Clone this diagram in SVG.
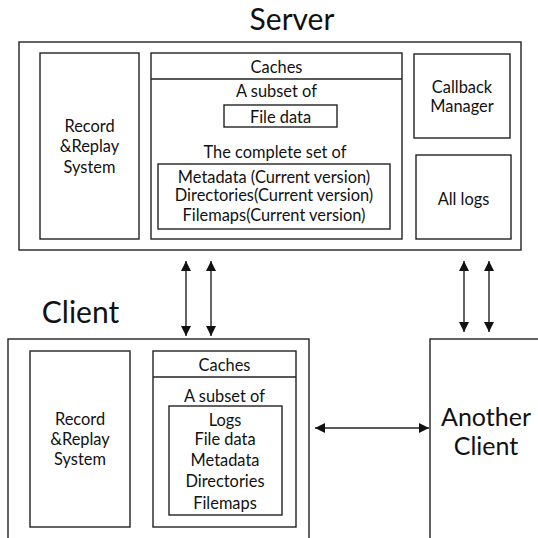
<svg xmlns="http://www.w3.org/2000/svg" width="538" height="538" viewBox="0 0 538 538">
<style>
  .box { fill: none; stroke: #222; stroke-width: 1.4; }
  .t { font-family: Lato, "Open Sans", sans-serif; font-size: 16.4px; fill: #111; text-anchor: middle; }
  .big { font-family: Lato, "Open Sans", sans-serif; font-size: 30px; fill: #111; text-anchor: middle; }
  .mid { font-family: Lato, "Open Sans", sans-serif; font-size: 25px; fill: #111; text-anchor: middle; }
  .conn { stroke: #222; stroke-width: 1.4; fill: none; marker-start: url(#ah); marker-end: url(#ah); }
</style>
<defs>
  <marker id="ah" viewBox="0 0 10 10" refX="10" refY="5" markerWidth="10" markerHeight="10" markerUnits="userSpaceOnUse" orient="auto-start-reverse">
    <path d="M0,0 L10,5 L0,10 Z" fill="#111"/>
  </marker>
</defs>
<rect width="538" height="538" fill="#fff"/>

<g id="server">
  <text class="big" x="292" y="29.5">Server</text>
  <rect class="box" x="19" y="42" width="502" height="208"/>
  <g id="server-record">
    <rect class="box" x="40" y="53" width="99" height="186"/>
    <text class="t" x="89.5" y="132">Record</text>
    <text class="t" x="89.5" y="152">&amp;Replay</text>
    <text class="t" x="89.5" y="173">System</text>
  </g>
  <g id="server-caches">
    <rect class="box" x="151" y="53" width="251" height="186"/>
    <line class="box" x1="151" y1="79" x2="402" y2="79"/>
    <text class="t" x="276.5" y="73">Caches</text>
    <text class="t" x="276.5" y="97">A subset of</text>
    <rect class="box" x="224" y="105" width="113" height="22"/>
    <text class="t" x="280.5" y="123">File data</text>
    <text class="t" x="275" y="158">The complete set of</text>
    <rect class="box" x="158" y="164" width="232" height="65"/>
    <text class="t" x="274" y="183">Metadata (Current version)</text>
    <text class="t" x="274" y="201">Directories(Current version)</text>
    <text class="t" x="274" y="221">Filemaps(Current version)</text>
  </g>
  <g id="callback">
    <rect class="box" x="414" y="54" width="96" height="84"/>
    <text class="t" x="462" y="93">Callback</text>
    <text class="t" x="462" y="112">Manager</text>
  </g>
  <g id="alllogs">
    <rect class="box" x="416" y="155" width="95" height="84"/>
    <text class="t" x="463.5" y="205">All logs</text>
  </g>
</g>

<g id="client">
  <text class="big" x="80.5" y="323">Client</text>
  <rect class="box" x="8" y="339" width="301" height="220"/>
  <g id="client-record">
    <rect class="box" x="30" y="351" width="100" height="176"/>
    <text class="t" x="80" y="425">Record</text>
    <text class="t" x="80" y="445">&amp;Replay</text>
    <text class="t" x="80" y="465">System</text>
  </g>
  <g id="client-caches">
    <rect class="box" x="153" y="351" width="143" height="176"/>
    <line class="box" x1="153" y1="377" x2="296" y2="377"/>
    <text class="t" x="224.5" y="371">Caches</text>
    <text class="t" x="224.5" y="402">A subset of</text>
    <rect class="box" x="169" y="406" width="113" height="109"/>
    <text class="t" x="225" y="426">Logs</text>
    <text class="t" x="225" y="445">File data</text>
    <text class="t" x="225" y="466">Metadata</text>
    <text class="t" x="225" y="487">Directories</text>
    <text class="t" x="225" y="509">Filemaps</text>
  </g>
</g>

<g id="another-client">
  <rect class="box" x="430" y="339" width="130" height="220"/>
  <text class="mid" x="486" y="426">Another</text>
  <text class="mid" x="486" y="455">Client</text>
</g>

<g id="connectors">
  <line class="conn" x1="186" y1="261" x2="186" y2="336"/>
  <line class="conn" x1="211" y1="261" x2="211" y2="336"/>
  <line class="conn" x1="464" y1="261" x2="464" y2="332"/>
  <line class="conn" x1="489" y1="261" x2="489" y2="332"/>
  <line class="conn" x1="315" y1="428" x2="429" y2="428"/>
</g>
</svg>
